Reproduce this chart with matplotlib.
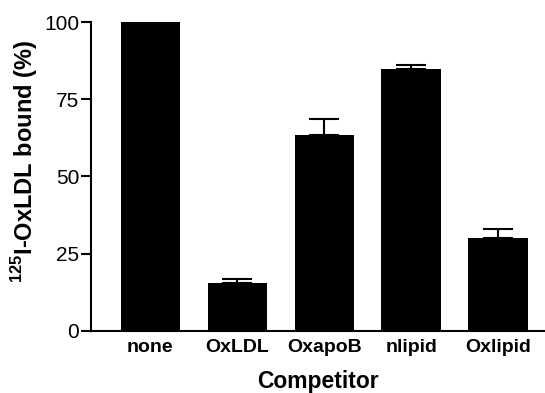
import numpy as np
import matplotlib
matplotlib.use("Agg")
import matplotlib.pyplot as plt

plt.rcParams['font.family'] = ['Liberation Sans', 'DejaVu Sans']
plt.rcParams['mathtext.fontset'] = 'custom'
plt.rcParams['mathtext.rm'] = 'Liberation Sans'
plt.rcParams['mathtext.bf'] = 'Liberation Sans:bold'

competitors = ['none', 'OxLDL', 'OxapoB', 'nlipid', 'Oxlipid']
bound = [100, 15.5, 63.5, 84.7, 30]
err = [0, 1.2, 5.1, 1.4, 3.1]

fig = plt.figure(figsize=(5.45, 3.93), dpi=100)
ax = fig.add_axes([0.167, 0.158, 0.833, 0.786])

x = np.arange(len(competitors))
ax.bar(x, bound, width=0.68, color='black')
ax.errorbar(x[1:], bound[1:], yerr=[np.zeros(4), err[1:]], fmt='none',
            ecolor='black', elinewidth=1.5, capsize=11, capthick=1.5)

ax.set_xlim(-0.68, 4.54)
ax.set_ylim(0, 100)
ax.set_yticks([0, 25, 50, 75, 100])
ax.set_xticks(x)
ax.set_xticklabels(competitors, fontsize=14, fontweight='bold')
ax.tick_params(axis='x', length=0, pad=6)
ax.tick_params(axis='y', length=7, width=1.5, labelsize=15, pad=1.5)
for s in ['top', 'right']:
    ax.spines[s].set_visible(False)
for s in ['left', 'bottom']:
    ax.spines[s].set_linewidth(1.5)

ax.set_ylabel(r'$^{\mathbf{125}}$I-OxLDL bound (%)', fontsize=17, fontweight='bold',
              ha='center', va='center')
ax.yaxis.set_label_coords(-0.146, 0.55)
ax.set_xlabel('Competitor', fontsize=16.5, fontweight='bold', ha='center', va='center')
ax.xaxis.set_label_coords(0.5, -0.165)

fig.savefig('out.png', dpi=100)
